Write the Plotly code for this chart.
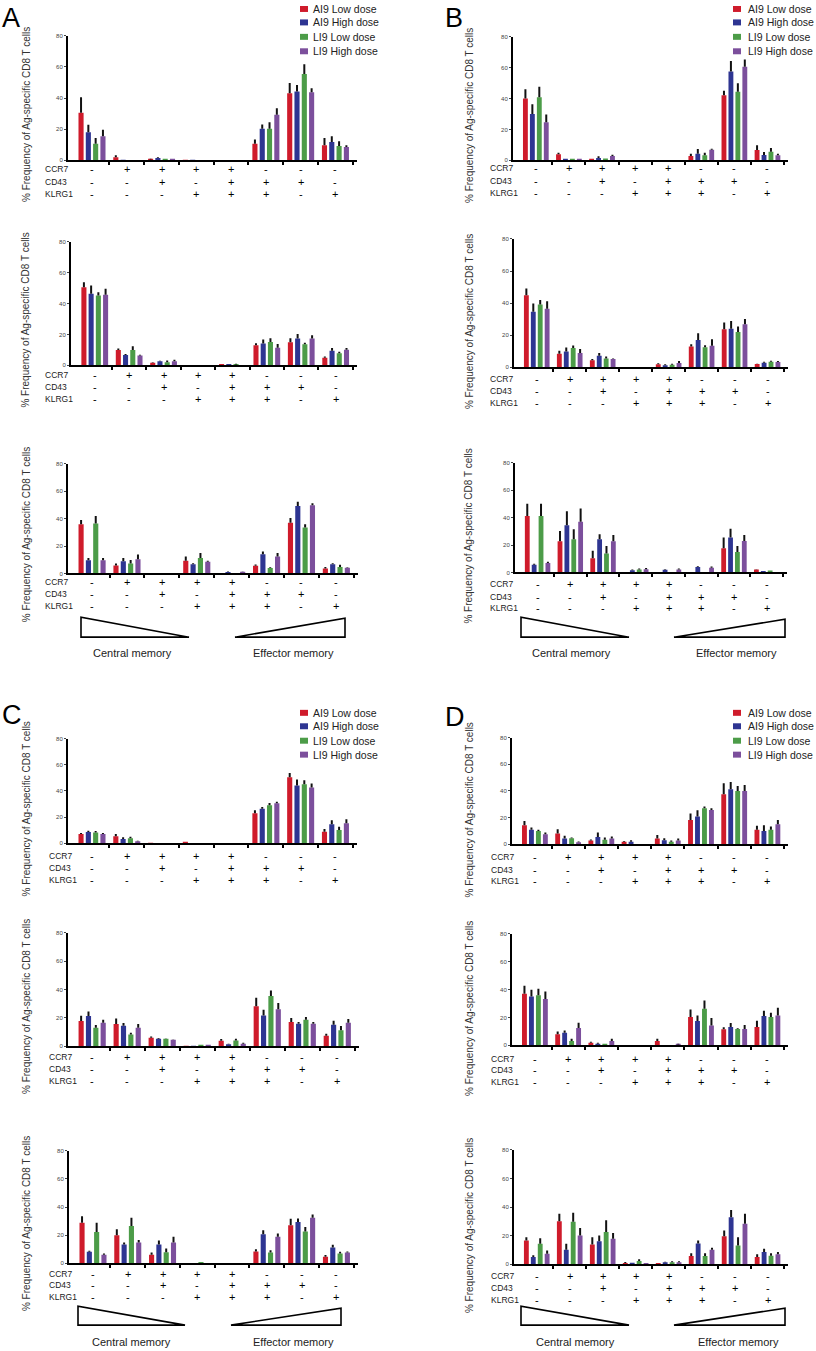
import plotly.graph_objects as go

W, H = 816, 1351

# ---------------- data ----------------
series_names = ["AI9 Low dose", "AI9 High dose", "LI9 Low dose", "LI9 High dose"]
series_colors = ["#cf1b2b", "#2e3592", "#4c9c48", "#7c4f9c"]
categories = ["CCR7-CD43-KLRG1-", "CCR7+CD43-KLRG1-", "CCR7+CD43+KLRG1-", "CCR7+CD43-KLRG1+",
              "CCR7+CD43+KLRG1+", "CCR7-CD43+KLRG1+", "CCR7-CD43+KLRG1-", "CCR7-CD43-KLRG1+"]
CCR7 = ["-", "+", "+", "+", "+", "-", "-", "-"]
CD43 = ["-", "-", "+", "-", "+", "+", "+", "-"]
KLRG1 = ["-", "-", "-", "+", "+", "+", "-", "+"]
y_ticks = [0, 20, 40, 60, 80]

# mean values (rows: AI9 low, AI9 high, LI9 low, LI9 high) and upper end of error bar
A1_mean = [[30.5, 2.0, 0.5, 0.2, 0, 10.7, 43.1, 9.6],
           [18.1, 0.2, 1.5, 0.1, 0, 20.3, 44.3, 11.7],
           [10.7, 0, 0.3, 0, 0, 20.3, 55.4, 9.2],
           [15.4, 0, 0.3, 0, 0, 29.2, 43.7, 8.5]]
A1_upper = [[40.5, 3.2, 1.0, 0.2, 0, 13.4, 49.7, 14.3],
            [22.8, 0.2, 2.0, 0.1, 0, 23.0, 48.4, 15.4],
            [14.3, 0, 0.3, 0, 0, 24.5, 61.8, 12.2],
            [19.6, 0, 0.3, 0, 0, 33.5, 46.3, 9.6]]
A2_mean = [[50.6, 9.9, 1.7, 0.1, 0.3, 13.1, 15.0, 4.9],
           [46.4, 6.7, 2.6, 0.1, 0.3, 14.2, 17.4, 9.4],
           [45.3, 9.9, 2.1, 0.1, 0.5, 15.2, 13.7, 7.9],
           [45.7, 6.4, 2.6, 0.1, 0.2, 11.4, 17.4, 10.1]]
A2_upper = [[53.9, 10.9, 2.1, 0.1, 0.3, 14.4, 17.6, 5.8],
            [51.7, 7.3, 3.0, 0.1, 0.3, 16.7, 20.4, 11.2],
            [47.4, 12.4, 3.2, 0.1, 1.0, 17.6, 14.6, 8.8],
            [49.6, 6.9, 3.6, 0.1, 0.2, 13.9, 19.5, 11.2]]
A3_mean = [[35.9, 5.8, 0, 9.2, 0, 5.6, 37.1, 3.6],
           [9.7, 9.0, 0, 6.8, 1.0, 14.1, 49.2, 6.8],
           [36.4, 7.3, 0, 11.2, 0, 3.9, 33.5, 4.8],
           [9.7, 10.4, 0, 8.5, 1.2, 12.4, 49.9, 4.1]]
A3_upper = [[39.0, 7.3, 0, 12.4, 0, 6.5, 40.5, 4.8],
            [11.2, 11.2, 0, 7.5, 1.5, 16.0, 52.4, 7.5],
            [41.9, 9.9, 0, 15.0, 0, 4.6, 35.9, 6.3],
            [11.2, 13.8, 0, 9.2, 1.5, 15.0, 51.2, 4.6]]
B1_mean = [[40.1, 3.9, 0.3, 0, 0, 2.8, 42.1, 6.7],
           [30.0, 0.8, 1.5, 0, 0, 4.3, 57.5, 3.4],
           [40.8, 0.3, 1.1, 0, 0, 3.2, 44.4, 5.6],
           [24.7, 0.5, 2.8, 0, 0, 6.9, 60.7, 3.2]]
B1_upper = [[46.1, 4.9, 0.3, 0, 0, 4.3, 45.1, 9.7],
            [36.3, 0.8, 2.6, 0, 0, 7.3, 64.4, 5.4],
            [47.6, 0.3, 1.1, 0, 0, 4.9, 50.0, 7.9],
            [29.6, 0.5, 3.6, 0, 0, 7.5, 65.4, 4.3]]
B2_mean = [[44.9, 8.5, 4.5, 0, 1.9, 13.0, 23.7, 2.1],
           [34.6, 9.9, 7.2, 0, 1.4, 17.1, 24.1, 2.9],
           [39.2, 12.0, 5.6, 0, 1.6, 12.6, 22.1, 3.5],
           [36.5, 8.9, 5.2, 0, 2.7, 13.4, 26.8, 3.3]]
B2_upper = [[49.1, 10.3, 5.2, 0, 2.5, 14.4, 28.0, 2.3],
            [39.8, 12.4, 8.9, 0, 1.9, 21.2, 28.9, 3.5],
            [41.9, 13.6, 6.8, 0, 2.3, 13.8, 25.4, 4.1],
            [41.2, 11.5, 5.6, 0, 3.9, 17.5, 30.1, 3.9]]
B3_mean = [[41.2, 22.8, 10.4, 0.3, 0.2, 0.3, 17.7, 2.2],
           [5.6, 34.4, 24.2, 1.7, 1.9, 3.9, 25.5, 0.5],
           [41.2, 24.2, 13.8, 2.2, 0.3, 0.3, 15.0, 1.5],
           [7.0, 37.1, 22.8, 2.4, 2.2, 3.4, 23.0, 0.2]]
B3_upper = [[50.2, 30.3, 15.8, 0.3, 0.2, 0.3, 25.5, 2.4],
            [6.3, 44.8, 27.9, 2.2, 2.4, 4.6, 32.0, 0.5],
            [50.2, 31.5, 19.4, 2.9, 0.3, 0.3, 19.4, 1.5],
            [7.8, 46.8, 27.4, 3.2, 2.9, 4.4, 27.4, 0.2]]
C1_mean = [[7.1, 5.3, 0.3, 0.5, 0, 23.0, 50.5, 8.8],
           [8.6, 3.3, 0, 0, 0, 26.5, 44.2, 14.6],
           [8.3, 3.8, 0, 0, 0, 29.0, 45.2, 10.1],
           [7.1, 1.5, 0, 0, 0, 30.6, 42.7, 15.4]]
C1_upper = [[7.8, 7.1, 0.3, 0.5, 0, 25.3, 53.8, 10.9],
            [9.6, 4.5, 0, 0, 0, 27.8, 48.7, 17.7],
            [9.3, 5.0, 0, 0, 0, 30.8, 48.2, 12.6],
            [7.8, 2.0, 0, 0, 0, 31.8, 45.7, 18.4]]
C2_mean = [[17.8, 15.7, 6.1, 0.2, 4.0, 28.2, 17.1, 7.5],
           [21.4, 14.6, 5.4, 0.1, 1.4, 21.8, 16.0, 15.3],
           [13.1, 8.4, 5.4, 0.5, 4.2, 35.4, 18.8, 11.3],
           [16.7, 13.1, 4.7, 0.5, 1.9, 26.1, 16.0, 16.7]]
C2_upper = [[21.6, 19.7, 7.0, 0.2, 5.2, 34.3, 20.0, 8.9],
            [24.6, 16.4, 5.9, 0.1, 1.9, 25.8, 17.1, 18.1],
            [15.0, 9.6, 5.6, 0.5, 5.4, 39.4, 20.7, 14.3],
            [18.8, 15.7, 4.9, 0.5, 2.6, 30.5, 17.1, 19.2]]
C3_mean = [[28.9, 20.0, 6.1, 0.3, 0, 8.5, 27.1, 4.7],
           [8.2, 13.4, 13.4, 0, 0, 20.7, 29.4, 11.3],
           [22.4, 26.6, 8.0, 0.6, 0, 7.8, 22.6, 7.1],
           [6.1, 14.8, 14.8, 0, 0, 19.0, 32.5, 7.8]]
C3_upper = [[33.6, 24.2, 7.8, 0.3, 0, 10.1, 31.8, 5.9],
            [8.9, 14.8, 16.2, 0, 0, 23.5, 32.0, 13.2],
            [28.9, 32.5, 10.6, 0.6, 0, 9.4, 25.9, 8.2],
            [7.1, 16.7, 19.0, 0, 0, 21.2, 34.8, 8.5]]
D1_mean = [[14.3, 8.0, 2.8, 1.8, 4.3, 18.3, 37.5, 10.8],
           [10.8, 4.3, 5.5, 1.8, 3.0, 20.8, 41.3, 10.0],
           [10.0, 4.5, 3.3, 0, 1.8, 27.0, 40.0, 10.8],
           [7.5, 1.5, 4.3, 0, 2.8, 25.8, 40.0, 15.0]]
D1_upper = [[17.5, 11.3, 3.5, 2.5, 7.0, 23.0, 45.8, 13.8],
            [12.5, 6.3, 8.8, 3.0, 4.5, 25.5, 46.8, 14.3],
            [10.8, 5.0, 5.0, 0, 2.8, 28.3, 43.8, 13.3],
            [8.8, 2.0, 5.8, 0, 4.3, 27.0, 44.5, 18.3]]
D2_mean = [[37.0, 7.9, 1.9, 0, 3.1, 20.3, 11.5, 13.1],
           [35.1, 9.1, 1.2, 0, 0, 17.4, 13.1, 21.0],
           [36.0, 3.1, 0.5, 0, 0, 26.3, 11.7, 20.3],
           [33.2, 12.4, 3.1, 0, 0.7, 14.3, 11.7, 21.5]]
D2_upper = [[42.7, 10.0, 2.6, 0, 4.8, 25.8, 12.9, 17.7],
            [39.9, 10.7, 1.9, 0, 0, 21.5, 16.0, 24.8],
            [40.6, 4.8, 0.5, 0, 0, 32.2, 12.2, 23.4],
            [38.7, 16.2, 4.8, 0, 1.2, 19.6, 14.6, 27.0]]
D3_mean = [[16.7, 30.2, 13.9, 0.9, 0.7, 5.8, 19.7, 5.1],
           [5.1, 10.2, 16.2, 1.2, 1.4, 14.6, 32.9, 8.6],
           [14.4, 29.7, 22.7, 2.3, 1.4, 5.8, 13.2, 6.0],
           [7.4, 20.2, 17.9, 0.7, 1.4, 10.2, 28.3, 7.0]]
D3_upper = [[19.0, 35.3, 19.0, 1.6, 0.7, 7.7, 23.7, 7.0],
            [6.3, 14.4, 20.2, 1.2, 1.9, 16.7, 38.0, 10.9],
            [18.3, 36.0, 30.9, 3.5, 2.1, 7.7, 19.0, 7.7],
            [9.7, 25.5, 22.0, 0.7, 2.1, 11.6, 35.3, 8.6]]

# ---------------- layout geometry (pixels) ----------------
# (mean, upper, axis_left, axis_right, y_zero, y_top, table rows y, row-label x, title x)
subplots = [
    (A1_mean, A1_upper, 68, 357, 158, 33, (167, 180, 192), 44, 26),
    (A2_mean, A2_upper, 71, 357, 364, 240, (374, 386, 398), 44, 26),
    (A3_mean, A3_upper, 68, 358, 573, 463, (582, 594, 606), 44, 26),
    (B1_mean, B1_upper, 513, 788, 158, 34, (166, 179, 191), 489, 469),
    (B2_mean, B2_upper, 514, 788, 366, 237, (378, 390, 402), 489, 469),
    (B3_mean, B3_upper, 515, 787, 572, 462, (584, 597, 608), 489, 469),
    (C1_mean, C1_upper, 68, 357, 844, 739, (857, 869, 881), 48, 26),
    (C2_mean, C2_upper, 68, 359, 1048, 934, (1059, 1071, 1083), 48, 26),
    (C3_mean, C3_upper, 69, 358, 1266, 1153, (1277, 1288, 1300), 48, 26),
    (D1_mean, D1_upper, 512, 788, 845, 738, (858, 871, 882), 490, 469),
    (D2_mean, D2_upper, 512, 788, 1047, 935, (1061, 1072, 1084), 490, 469),
    (D3_mean, D3_upper, 514, 788, 1267, 1152, (1279, 1291, 1303), 490, 469),
]

FONT = "Liberation Sans, Arial, sans-serif"


def px(x):
    return x / W


def py(y):
    return 1 - y / H


fig = go.Figure()
layout = dict(
    width=W, height=H, margin=dict(l=0, r=0, t=0, b=0),
    paper_bgcolor="white", plot_bgcolor="white",
    barmode="group", bargap=0.16, bargroupgap=0.3,
    showlegend=False, font=dict(family=FONT, color="#222"),
)
annotations = []
shapes = []
xpos = list(range(len(categories)))

for i, (mean, upper, xl, xr, y0, y80, rows, lab_x, tit_x) in enumerate(subplots, start=1):
    xa, ya = f"x{i}", f"y{i}"
    for s in range(4):
        err = [round(u - m, 3) for u, m in zip(upper[s], mean[s])]
        fig.add_trace(go.Bar(
            x=xpos, y=mean[s], name=series_names[s], customdata=categories,
            marker=dict(color=series_colors[s], line=dict(width=0)),
            error_y=dict(type="data", symmetric=False, array=err,
                         arrayminus=[0] * len(err), color="#111", thickness=2, width=0),
            xaxis=xa, yaxis=ya, offsetgroup=str(s), showlegend=False,
        ))
    layout[f"xaxis{i}"] = dict(
        domain=[px(xl), px(xr)], range=[-0.69, 7.62], anchor=ya,
        showline=True, linewidth=2, linecolor="black", showgrid=False, zeroline=False,
        tickvals=[k + 0.5 for k in range(len(categories))], ticks="outside",
        ticklen=3, tickwidth=2, tickcolor="black", showticklabels=False, fixedrange=True,
    )
    layout[f"yaxis{i}"] = dict(
        domain=[py(y0), py(y80)], range=[0, 80], anchor=xa,
        showline=True, linewidth=2, linecolor="black", showgrid=False, zeroline=False,
        tickvals=y_ticks, ticks="outside", ticklen=2, tickwidth=1, tickcolor="#444",
        tickfont=dict(size=6, color="#444", family=FONT), fixedrange=True,
    )
    # table of markers
    for row_y, row_name, signs in zip(rows, ["CCR7", "CD43", "KLRG1"], [CCR7, CD43, KLRG1]):
        annotations.append(dict(x=px(lab_x), y=py(row_y), xref="paper", yref="paper",
                                text=row_name, showarrow=False, xanchor="left", yanchor="middle",
                                borderpad=0, font=dict(size=8.5, color="#1a1a1a", family=FONT)))
        for k, sgn in enumerate(signs):
            annotations.append(dict(x=k, y=py(row_y), xref=xa, yref="paper", text=sgn,
                                    showarrow=False, xanchor="center", yanchor="middle",
                                    borderpad=0, font=dict(size=11, color="black", family=FONT)))
    # y-axis title
    annotations.append(dict(x=px(tit_x), y=py((y80 + rows[2]) / 2), xref="paper", yref="paper",
                            text="% Frequency of Ag-specific CD8 T cells", textangle=-90,
                            showarrow=False, xanchor="center", yanchor="middle",
                            font=dict(size=10, color="#333", family=FONT)))

# panel letters
for letter, lx, ly in [("A", 1, 15), ("B", 444, 15), ("C", 1, 715), ("D", 444, 717)]:
    annotations.append(dict(x=px(lx), y=py(ly), xref="paper", yref="paper", text=letter,
                            showarrow=False, xanchor="left", yanchor="middle", borderpad=0,
                            font=dict(size=27, color="black", family=FONT)))

# legends (one per panel)
legend_rows = [[6, 19.5, 34, 48.5], [713, 726.5, 741, 755]]
for (sq_x, txt_x, rset) in [(300, 312, 0), (733, 747, 0), (300, 312, 1), (733, 747, 1)]:
    for s, ry in enumerate(legend_rows[rset]):
        shapes.append(dict(type="rect", xref="paper", yref="paper",
                           x0=px(sq_x), x1=px(sq_x + 8), y0=py(ry + 3), y1=py(ry - 3),
                           fillcolor=series_colors[s], line=dict(width=0)))
        annotations.append(dict(x=px(txt_x), y=py(ry), xref="paper", yref="paper",
                                text=series_names[s], showarrow=False, xanchor="left",
                                yanchor="middle", borderpad=0,
                                font=dict(size=10.5, color="#222", family=FONT)))

# memory triangles and labels
tri_sets = [
    ((81, 617, 637, 189), (235, 345, 618, 637), (132, 293, 653)),
    ((521, 617, 637, 629), (674, 785, 619, 637), (571, 736, 653)),
    ((78, 1309, 1328, 185), (231, 341, 1311, 1328), (131, 293, 1345)),
    ((521, 1309, 1328, 629), (674, 785, 1311, 1328), (575, 738, 1345)),
]
for (lx, ltop, lbot, ltip), (rtip, rx, rtop, rbot), (cmx, emx, laby) in tri_sets:
    shapes.append(dict(type="path", xref="paper", yref="paper",
                       path=f"M{px(lx)},{py(ltop)} L{px(lx)},{py(lbot)} L{px(ltip)},{py(lbot)} Z",
                       line=dict(color="black", width=1.6), fillcolor="rgba(0,0,0,0)"))
    shapes.append(dict(type="path", xref="paper", yref="paper",
                       path=f"M{px(rtip)},{py(rbot)} L{px(rx)},{py(rbot)} L{px(rx)},{py(rtop)} Z",
                       line=dict(color="black", width=1.6), fillcolor="rgba(0,0,0,0)"))
    annotations.append(dict(x=px(cmx), y=py(laby), xref="paper", yref="paper",
                            text="Central memory", showarrow=False, xanchor="center",
                            yanchor="middle", font=dict(size=11, color="#222", family=FONT)))
    annotations.append(dict(x=px(emx), y=py(laby), xref="paper", yref="paper",
                            text="Effector memory", showarrow=False, xanchor="center",
                            yanchor="middle", font=dict(size=11, color="#222", family=FONT)))

layout["annotations"] = annotations
layout["shapes"] = shapes
fig.update_layout(**layout)
fig.write_html(
    "out.html",
    config={"displayModeBar": False},
    post_script="document.body.style.margin='0';document.body.style.overflow='hidden';",
)
